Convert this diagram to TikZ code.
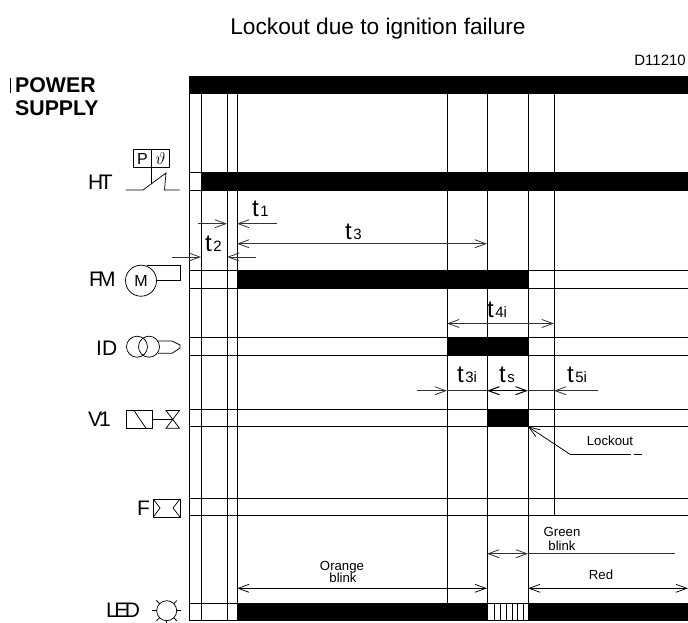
\documentclass[tikz,border=0pt]{standalone}
\usepackage{fontspec}
\setmainfont{Liberation Sans}
\usetikzlibrary{arrows.meta}
\newcommand{\fs}[1]{\fontsize{#1}{#1}\selectfont}
\newcommand{\tlab}[1]{\fs{24}t\kern1.5pt\fs{15}#1}
\tikzset{
  bar/.style={fill=black, draw=none},
  grid/.style={line width=0.75pt},
  dim/.style={line width=0.8pt, black!80},
  sym/.style={line width=0.75pt},
  tag/.style={inner sep=0pt, font=\fs{21}},
  note/.style={inner sep=0pt, font=\fs{13.2}, align=center},
}
\begin{document}
\begin{tikzpicture}[x=1pt, y=-1pt, >={Straight Barb[length=11pt,width=8pt]}]
\useasboundingbox (0,0) rectangle (688,622);
\foreach \x/\yend in {189/620, 201/620, 227/620, 237/620, 447/603, 487/620, 528/620, 554/515}
  \draw[grid] (\x, 76) -- (\x, \yend);
\foreach \y in {172, 190, 270, 288, 337, 355, 409, 426.5, 498, 515.5, 603, 620}
  \draw[grid] (189, \y) -- (688, \y);
\draw[grid] (189, 76) -- (688, 76);
\fill[bar] (189, 76) rectangle (688, 94);
\fill[bar] (201, 172) rectangle (688, 190);
\fill[bar] (237, 270) rectangle (528, 288);
\fill[bar] (447, 337) rectangle (528, 355);
\fill[bar] (487, 409) rectangle (528, 426.5);
\fill[bar] (237, 603) rectangle (487, 620);
\fill[bar] (528, 603) rectangle (688, 620);
\foreach \x in {494, 500, 506, 512, 517, 523}
  \draw[grid] (\x, 603) -- (\x, 620);

\node[inner sep=0pt, anchor=base, font=\fs{22.7}] (title) at (378, 34) {Lockout due to ignition failure};
\node[inner sep=0pt, anchor=base east, font=\fs{15}] (code) at (686, 65) {D11210};
\draw[line width=0.7pt] (10.5, 78) -- (10.5, 93);
\node[inner sep=0pt, anchor=base west, font=\bfseries\fs{21.3}] (power) at (15, 92.3) {POWER};
\node[inner sep=0pt, anchor=base west, font=\bfseries\fs{21.3}] (supply) at (15, 115) {SUPPLY};

\node[tag, anchor=base west] (ht) at (88, 189.3) {H\kern-3.5pt T};
\node[tag, anchor=base west] (fm) at (89, 286.7) {F\kern-4pt M};
\node[tag, anchor=base west] (id) at (96, 355) {ID};
\node[tag, anchor=base west] (v) at (88, 426) {V\kern-3pt 1};
\node[tag, anchor=base west] (f) at (137, 515) {F};
\node[tag, anchor=base west] (led) at (106, 617.5) {L\kern-3.5pt E\kern-3.5pt D};

\draw[sym] (133.5, 149.5) rectangle (169, 167.5);
\draw[sym] (151.5, 149.5) -- (151.5, 184);
\node[inner sep=0pt, font=\fs{16}] (press) at (142.5, 158.5) {P};
\node[inner sep=0pt, font=\fs{18}] (temp) at (160.5, 158) {$\vartheta$};
\draw[sym] (125.5, 190) -- (143, 190) -- (166, 173) -- (164.5, 190) -- (179.5, 190);

\draw[sym] (141, 280.7) circle (15.5);
\node[inner sep=0pt, font=\fs{16}] (motor) at (141, 281) {M};
\draw[sym] (146.5, 265.5) -- (180, 265.5) -- (180, 280.5) -- (156.5, 280.5);

\draw[sym] (137, 346.7) circle (10.5);
\draw[sym] (149, 346.7) circle (10.5);
\draw[sym] (158, 341) -- (172, 341) -- (180, 345) -- (180, 348) -- (172, 353.3) -- (158, 353.3);

\draw[sym] (126, 410.5) rectangle (152.7, 428.3);
\draw[sym] (134, 410.5) -- (146, 428.3);
\draw[sym] (152.7, 419.3) -- (172.7, 419.3);
\draw[sym] (166, 410.5) -- (179.5, 410.5) -- (166, 428.3) -- (179.5, 428.3) -- cycle;

\draw[sym] (153.3, 499) rectangle (180, 517);
\draw[sym] (153.3, 499) -- (160, 508) -- (153.3, 517);
\draw[sym] (180, 499) -- (173, 508) -- (180, 517);

\draw[sym] (166.7, 610.7) circle (10);
\foreach \a in {0, 45, 90, 135, 180, 225, 315}
  \draw[sym] (166.7, 610.7) ++(\a:10) -- ++(\a:4.5);

\draw[dim, ->] (198, 223.7) -- (227, 223.7);
\draw[dim, ->] (277, 223.7) -- (237, 223.7);
\draw[dim, <->] (237, 243.7) -- (487, 243.7);
\draw[dim, ->] (172, 257) -- (201, 257);
\draw[dim, ->] (256, 257) -- (227, 257);
\draw[dim, <->] (447, 323.5) -- (554, 323.5);
\draw[dim, ->] (417, 390.7) -- (447, 390.7);
\draw[dim] (447, 390.7) -- (487, 390.7);
\draw[line width=1pt, <->] (487, 390.7) -- (528, 390.7);
\draw[dim] (528, 390.7) -- (554, 390.7);
\draw[dim, ->] (597.5, 390.7) -- (554, 390.7);
\draw[sym, ->] (570, 454.3) -- (528, 426.5);
\draw[sym] (570, 454.3) -- (631, 454.3);
\draw[sym] (633.5, 454.3) -- (642, 454.3);
\draw[dim, <->] (487, 553.7) -- (528, 553.7);
\draw[dim] (528, 553.7) -- (675, 553.7);
\draw[sym, <->] (237, 588.3) -- (487, 588.3);
\draw[sym, <->] (528, 588.3) -- (688, 588.3);

\node[inner sep=0pt, anchor=base west] (tone) at (252, 216.7) {\tlab{1}};
\node[inner sep=0pt, anchor=base west] (ttwo) at (205, 251.7) {\tlab{2}};
\node[inner sep=0pt, anchor=base west] (tthree) at (345, 239) {\tlab{3}};
\node[inner sep=0pt, anchor=base west] (tfour) at (487, 317) {\tlab{4i}};
\node[inner sep=0pt, anchor=base west] (tthreei) at (457, 382) {\tlab{3i}};
\node[inner sep=0pt, anchor=base west] (tsafe) at (499, 382) {\tlab{s}};
\node[inner sep=0pt, anchor=base west] (tfive) at (567, 382) {\tlab{5i}};

\node[note] (lockout) at (610, 441) {Lockout};
\node[note] (green) at (562, 532) {Green};
\node[note] (greenb) at (562, 545.5) {blink};
\node[note] (orange) at (342, 567) {Orange};
\node[note] (orangeb) at (343, 578) {blink};
\node[note] (red) at (601, 575) {Red};
\end{tikzpicture}
\end{document}
